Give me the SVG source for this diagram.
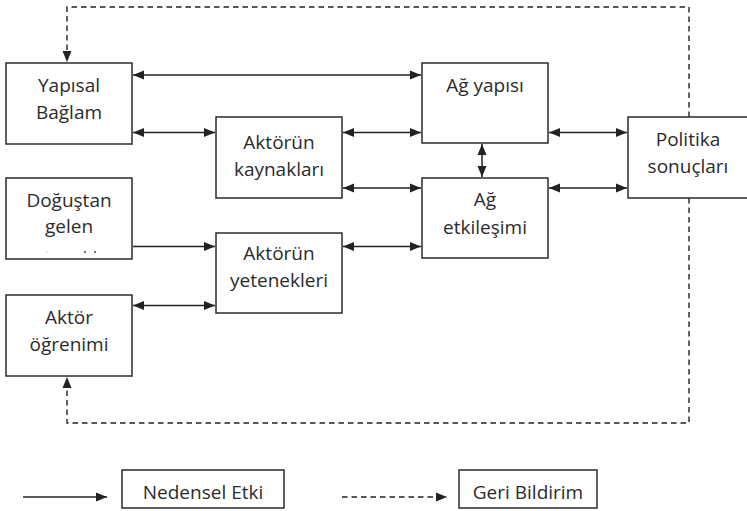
<svg xmlns="http://www.w3.org/2000/svg" width="747" height="511" viewBox="0 0 747 511">
<defs>
<style>
.box{fill:#fff;stroke:#2b2b2b;stroke-width:1.5}
.t{font-family:"Open Sans","Liberation Sans",sans-serif;font-size:19px;fill:#2b2b2b;text-anchor:middle}
.c{fill:none;stroke:#222;stroke-width:1.5}
.d{fill:none;stroke:#222;stroke-width:1.4;stroke-dasharray:5.5 4}
</style>
<marker id="ah" viewBox="0 0 11 10" refX="11" refY="5" markerWidth="11" markerHeight="10" markerUnits="userSpaceOnUse" orient="auto-start-reverse">
<path d="M0,0.5 L11,5 L0,9.5 Z" fill="#222"/>
</marker>
</defs>
<rect width="747" height="511" fill="#fff"/>
<g id="connectors">
<line class="c" x1="133" y1="75" x2="421" y2="75" marker-start="url(#ah)" marker-end="url(#ah)"/>
<line class="c" x1="133" y1="132.5" x2="215" y2="132.5" marker-start="url(#ah)" marker-end="url(#ah)"/>
<line class="c" x1="343" y1="132.5" x2="421" y2="132.5" marker-start="url(#ah)" marker-end="url(#ah)"/>
<line class="c" x1="343" y1="188" x2="421" y2="188" marker-start="url(#ah)" marker-end="url(#ah)"/>
<line class="c" x1="133" y1="246.5" x2="215" y2="246.5" marker-end="url(#ah)"/>
<line class="c" x1="343" y1="246.5" x2="421" y2="246.5" marker-start="url(#ah)" marker-end="url(#ah)"/>
<line class="c" x1="133" y1="305.5" x2="215" y2="305.5" marker-start="url(#ah)" marker-end="url(#ah)"/>
<line class="c" x1="482" y1="144" x2="482" y2="177" marker-start="url(#ah)" marker-end="url(#ah)"/>
<line class="c" x1="549" y1="132.5" x2="627" y2="132.5" marker-start="url(#ah)" marker-end="url(#ah)"/>
<line class="c" x1="549" y1="188" x2="627" y2="188" marker-start="url(#ah)" marker-end="url(#ah)"/>
<polyline class="d" points="689,117 689,7 67,7 67,62" marker-end="url(#ah)"/>
<polyline class="d" points="689,198 689,423 67,423 67,377" marker-end="url(#ah)"/>
</g>
<g id="yapisal-baglam">
<rect class="box" x="6" y="63" width="126" height="81"/>
<text class="t" x="69" y="92">Yapısal</text>
<text class="t" x="69" y="119">Bağlam</text>
</g>
<g id="aktorun-kaynaklari">
<rect class="box" x="216" y="117" width="126" height="81"/>
<text class="t" x="279" y="148.5">Aktörün</text>
<text class="t" x="279" y="175.5">kaynakları</text>
</g>
<g id="dogustan-gelen">
<rect class="box" x="6" y="178" width="126" height="81"/>
<text class="t" x="69" y="207">Doğuştan</text>
<text class="t" x="69" y="232.5">gelen</text>
<circle cx="85" cy="252" r="1" fill="#444"/>
<circle cx="95" cy="252" r="1" fill="#444"/>
<circle cx="47" cy="252" r="0.7" fill="#bbb"/>
</g>
<g id="aktorun-yetenekleri">
<rect class="box" x="216" y="233" width="126" height="80"/>
<text class="t" x="279" y="260">Aktörün</text>
<text class="t" x="279" y="287">yetenekleri</text>
</g>
<g id="aktor-ogrenimi">
<rect class="box" x="6" y="295" width="126" height="81"/>
<text class="t" x="69" y="323.5">Aktör</text>
<text class="t" x="69" y="350.5">öğrenimi</text>
</g>
<g id="ag-yapisi">
<rect class="box" x="422" y="63" width="126" height="80"/>
<text class="t" x="485" y="91.5">Ağ yapısı</text>
</g>
<g id="ag-etkilesimi">
<rect class="box" x="422" y="178" width="126" height="80"/>
<text class="t" x="485" y="205.5">Ağ</text>
<text class="t" x="485" y="234">etkileşimi</text>
</g>
<g id="politika-sonuclari">
<rect class="box" x="628" y="117" width="126" height="81"/>
<text class="t" x="688" y="146">Politika</text>
<text class="t" x="688" y="173">sonuçları</text>
</g>
<g id="legend">
<line class="c" x1="23" y1="497" x2="107" y2="497" marker-end="url(#ah)"/>
<rect class="box" x="122" y="470" width="162" height="38"/>
<text class="t" x="203" y="498.5">Nedensel Etki</text>
<line class="d" x1="342" y1="497" x2="447" y2="497" marker-end="url(#ah)"/>
<rect class="box" x="459" y="470" width="138" height="38"/>
<text class="t" x="528" y="498.5">Geri Bildirim</text>
</g>
</svg>
